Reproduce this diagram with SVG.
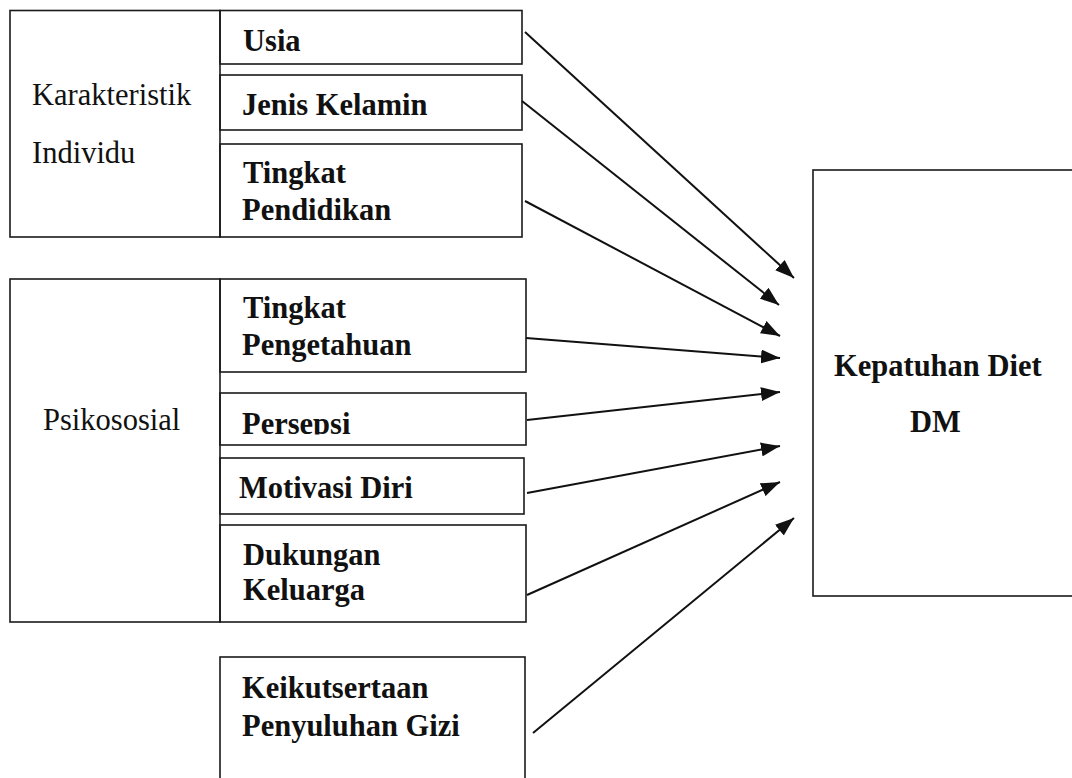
<svg xmlns="http://www.w3.org/2000/svg" width="1072" height="778" viewBox="0 0 1072 778">
  <style>
    .box { fill: none; stroke: #1a1a1a; stroke-width: 1.6; }
    .t { font-family: "Liberation Serif", "Times New Roman", serif; font-size: 30.5px; fill: #111; }
    .b { font-weight: bold; }
    .conn line { stroke: #111; stroke-width: 2; marker-end: url(#arrow); }
  </style>
  <defs>
    <marker id="arrow" markerUnits="userSpaceOnUse" markerWidth="20" markerHeight="14" refX="19" refY="7" orient="auto">
      <path d="M0,0 L19,7 L0,14 Z" fill="#111"/>
    </marker>
    <clipPath id="clipPersepsi">
      <rect x="220" y="393" width="306" height="41.5"/>
    </clipPath>
  </defs>
  <rect width="1072" height="778" fill="#ffffff"/>

  <g id="karakteristik-individu">
    <rect class="box" x="10" y="10.5" width="210" height="226.5"/>
    <text class="t" x="32" y="105">Karakteristik</text>
    <text class="t" x="32" y="163">Individu</text>
  </g>
  <g id="usia">
    <rect class="box" x="220" y="10.5" width="302" height="53.5"/>
    <text class="t b" x="243" y="51">Usia</text>
  </g>
  <g id="jenis-kelamin">
    <rect class="box" x="220" y="75" width="302" height="55"/>
    <text class="t b" x="242" y="115">Jenis Kelamin</text>
  </g>
  <g id="tingkat-pendidikan">
    <rect class="box" x="220" y="144" width="302" height="93"/>
    <text class="t b" x="243" y="183">Tingkat</text>
    <text class="t b" x="242" y="220">Pendidikan</text>
  </g>

  <g id="psikososial">
    <rect class="box" x="10" y="279" width="210" height="343"/>
    <text class="t" x="43" y="430">Psikososial</text>
  </g>
  <g id="tingkat-pengetahuan">
    <rect class="box" x="220" y="279" width="306" height="93"/>
    <text class="t b" x="243" y="318">Tingkat</text>
    <text class="t b" x="242" y="355">Pengetahuan</text>
  </g>
  <g id="persepsi">
    <rect class="box" x="220" y="393" width="306" height="52"/>
    <g clip-path="url(#clipPersepsi)">
      <text class="t b" x="242" y="434">Persepsi</text>
    </g>
  </g>
  <g id="motivasi-diri">
    <rect class="box" x="220" y="458" width="304" height="56"/>
    <text class="t b" x="239" y="498">Motivasi Diri</text>
  </g>
  <g id="dukungan-keluarga">
    <rect class="box" x="220" y="525" width="306" height="97"/>
    <text class="t b" x="243" y="565">Dukungan</text>
    <text class="t b" x="243" y="600">Keluarga</text>
  </g>

  <g id="keikutsertaan-penyuluhan-gizi">
    <rect class="box" x="220" y="657" width="305" height="150"/>
    <text class="t b" x="242" y="698">Keikutsertaan</text>
    <text class="t b" x="242" y="736">Penyuluhan Gizi</text>
  </g>

  <g id="kepatuhan-diet-dm">
    <rect class="box" x="813" y="170" width="280" height="426"/>
    <text class="t b" x="834" y="376">Kepatuhan Diet</text>
    <text class="t b" x="910" y="432">DM</text>
  </g>

  <g id="connectors" class="conn">
    <line x1="525" y1="32" x2="794" y2="278"/>
    <line x1="522" y1="101" x2="779" y2="305"/>
    <line x1="525" y1="201" x2="780" y2="336"/>
    <line x1="526" y1="338" x2="780" y2="358"/>
    <line x1="527" y1="420" x2="780" y2="392"/>
    <line x1="527" y1="493" x2="780" y2="446"/>
    <line x1="527" y1="595" x2="780" y2="482"/>
    <line x1="533" y1="733" x2="794" y2="518"/>
  </g>
</svg>
